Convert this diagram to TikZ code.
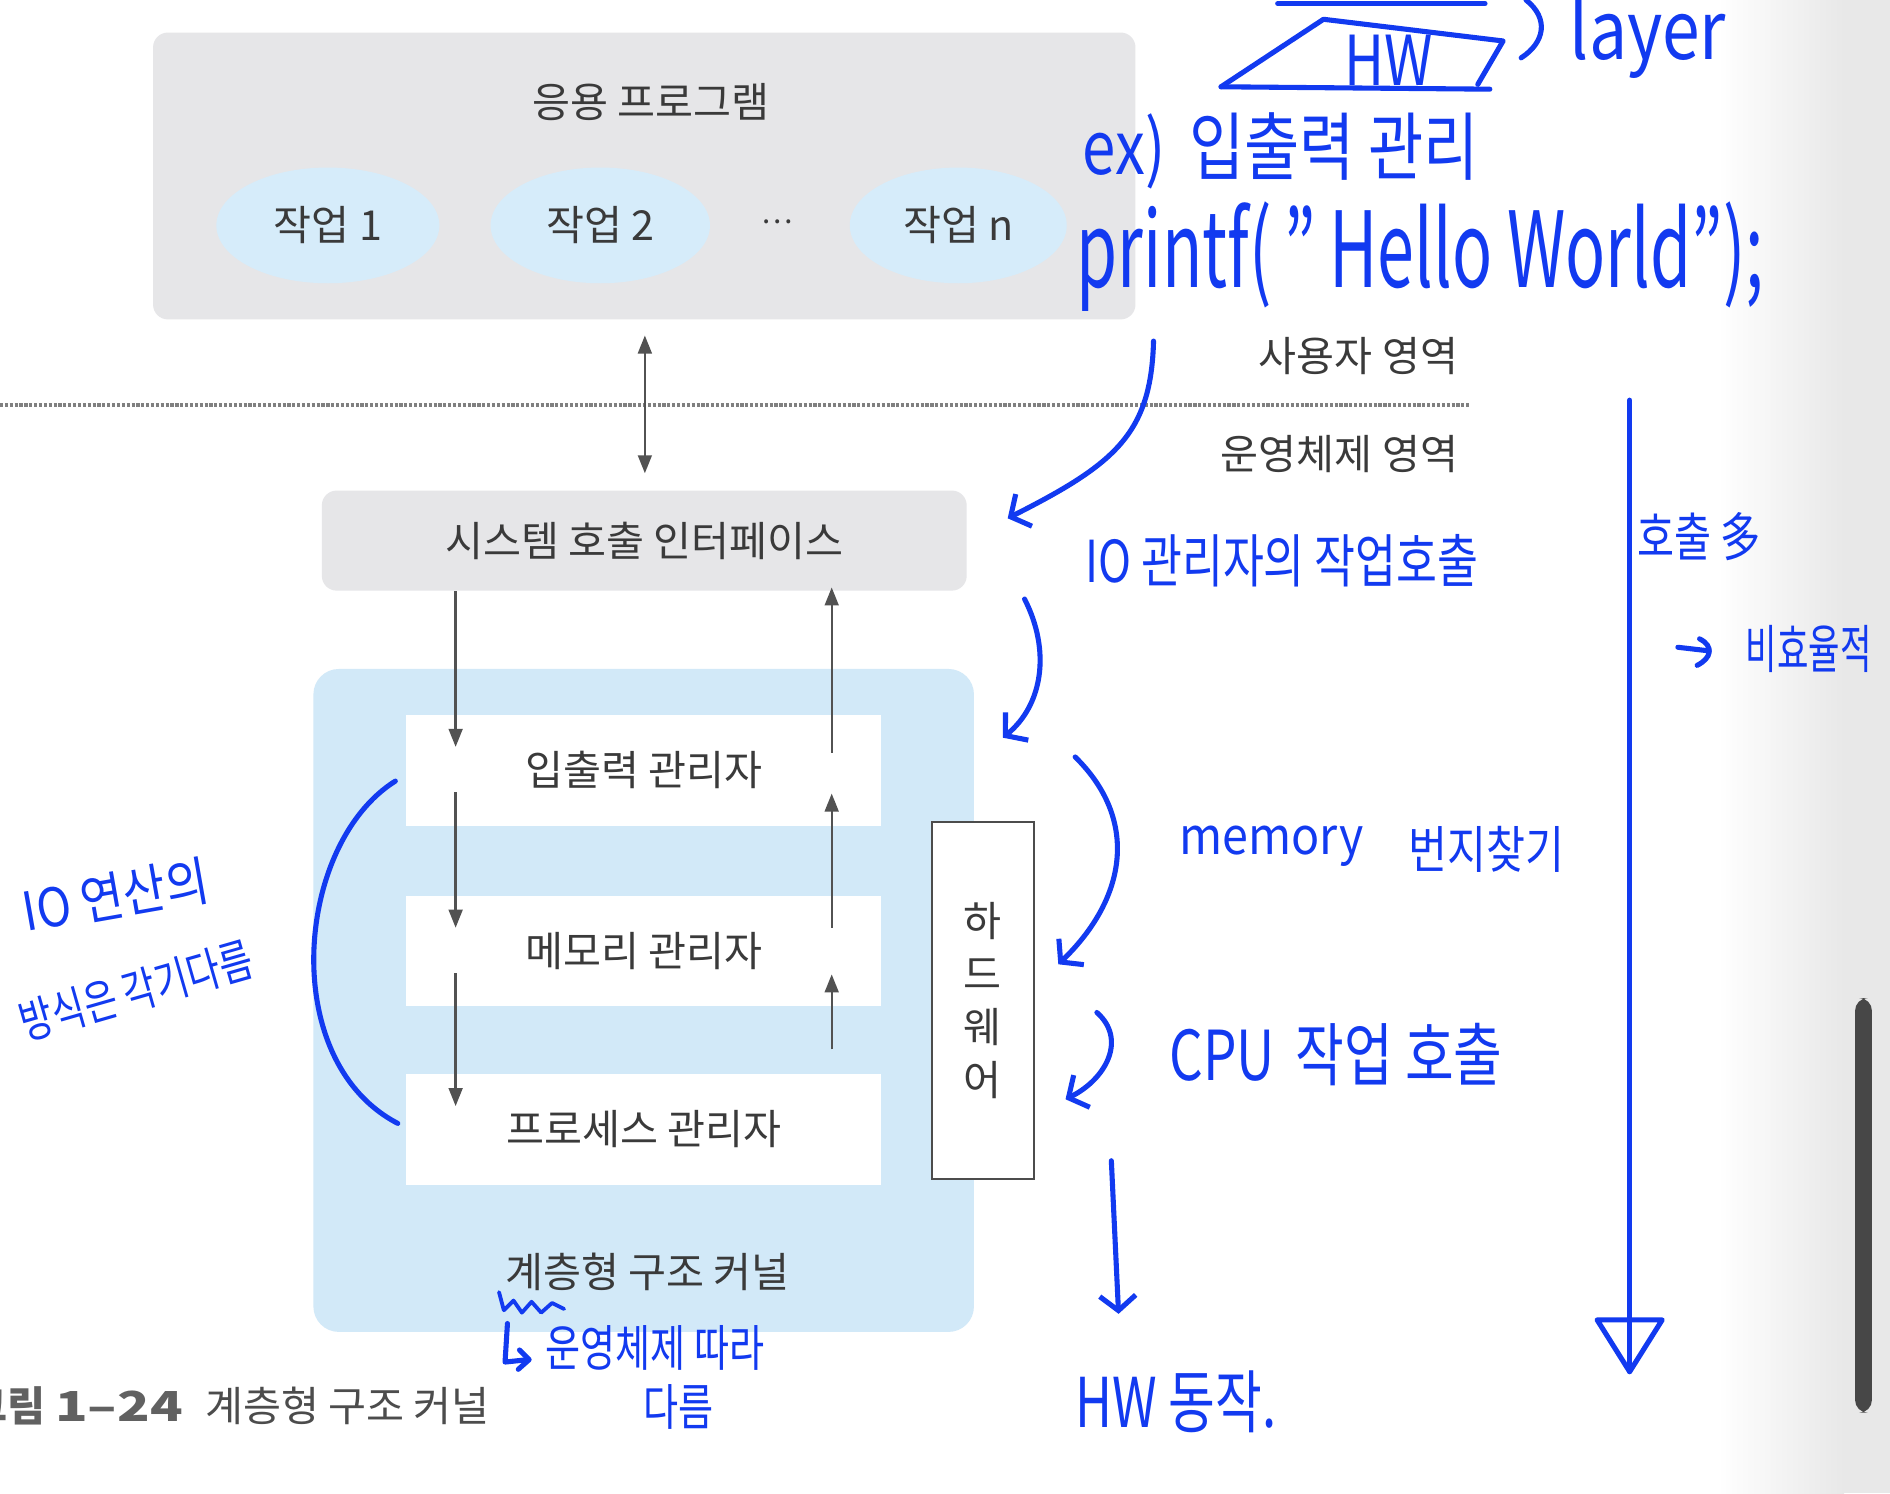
\documentclass[tikz,border=0pt]{standalone}
\usepackage{graphicx}
\usepackage{fontspec}
\setmainfont{Noto Sans CJK KR}
\usetikzlibrary{arrows.meta,calc,shapes.geometric}
\newlength\pxu \setlength\pxu{0.02cm}
\definecolor{pen}{RGB}{18,58,240}
\definecolor{ink}{RGB}{58,58,58}
\definecolor{boxgray}{RGB}{230,230,232}
\definecolor{lblue}{RGB}{210,233,248}
\definecolor{eblue}{RGB}{214,236,250}
\newcommand{\fs}[1]{\fontsize{#1}{#1}\selectfont}
\begin{document}
\begin{tikzpicture}[x=0.02cm,y=-0.02cm,
  graybox/.style={fill=boxgray, rounded corners=7pt, draw=none, inner sep=0pt},
  txt/.style={text=ink, font=\fs{19.5}, inner sep=0pt},
  ell/.style={ellipse, fill=eblue, text=ink, inner sep=0pt, font=\fs{19.5}},
  wbox/.style={fill=white, draw=none, inner sep=0pt, text=ink, font=\fs{19.5}},
  garrow/.style={draw=black!68, line width=1.1pt, -{Triangle[length=8.5pt,width=6.5pt]}},
  gdarrow/.style={draw=black!68, line width=1.1pt, {Triangle[length=8.5pt,width=6.5pt]}-{Triangle[length=8.5pt,width=6.5pt]}},
  hand/.style={draw=pen, line width=2.4pt, line cap=round, line join=round},
  handarrow/.style={hand, -{Straight Barb[length=7pt,width=17pt,line width=2.4pt]}},
  note/.style={text=pen, inner sep=0pt}
]
\useasboundingbox (0,0) rectangle (1568,1239);
\clip (0,0) rectangle (1568,1239);
\fill[white] (0,0) rectangle (1568,1239);
% right page shadow and scrollbar
\shade[left color=white, right color=black!9] (1425,0) rectangle (1530,1239);
\fill[black!9] (1530,0) rectangle (1568,1239);
\fill[black!72, rounded corners=6pt] (1539,828) rectangle (1553,1172);

% ---------- application area ----------
\node[graybox, minimum width=815\pxu, minimum height=238\pxu] (app) at (534.5,146) {};
\node[txt] (apptitle) at (540,85) {응용 프로그램};
\node[ell, minimum width=185\pxu, minimum height=96\pxu] (t1) at (272,187) {작업 1};
\node[ell, minimum width=182\pxu, minimum height=96\pxu] (t2) at (498,187) {작업 2};
\node[txt, font=\fs{14}] (dots) at (645,184) {…};
\node[ell, minimum width=180\pxu, minimum height=96\pxu] (tn) at (795,187) {작업 n};

% ---------- user / OS boundary ----------
\coordinate (lineL) at (0,336);
\coordinate (lineR) at (1220,336);
\draw[black!50, line width=2.2pt, dash pattern=on 1.5pt off 0.8pt] (lineL) -- (lineR);
\node[txt, anchor=east] (user) at (1210,295) {사용자 영역};
\node[txt, anchor=east] (osarea) at (1210,377) {운영체제 영역};

% ---------- system call interface ----------
\node[graybox, minimum width=535\pxu, minimum height=83\pxu, txt] (sys) at (534.5,448.5) {시스템 호출 인터페이스};

% ---------- kernel ----------
\node[fill=lblue, rounded corners=12pt, minimum width=548\pxu, minimum height=550\pxu, inner sep=0pt] (kernel) at (534,830) {};
\node[wbox, minimum width=394\pxu, minimum height=92\pxu] (io) at (534,639) {입출력 관리자};
\node[wbox, minimum width=394\pxu, minimum height=92\pxu] (mem) at (534,789) {메모리 관리자};
\node[wbox, minimum width=394\pxu, minimum height=92\pxu] (proc) at (534,937) {프로세스 관리자};
\node[txt] (ktitle) at (537,1055) {계층형 구조 커널};
\node[draw=black!70, line width=0.9pt, fill=white, minimum width=85\pxu, minimum height=296\pxu, inner sep=0pt, text=ink, font=\fontsize{19.5}{25}\selectfont, align=center] (hw) at (815.5,830) {하\\드\\웨\\어};

% ---------- gray connectors ----------
\coordinate (xM) at (535,0);
\coordinate (xL) at (378,0);
\coordinate (xR) at (690,0);
\draw[gdarrow] ($(app.south -| xM)+(0,13)$) -- ($(sys.north -| xM)+(0,-14)$);
\draw[garrow] (sys.south -| xL) -- ($(io.north -| xL)+(0,27)$);
\draw[garrow] ($(io.south -| xL)+(0,-28)$) -- ($(mem.north -| xL)+(0,27)$);
\draw[garrow] ($(mem.south -| xL)+(0,-28)$) -- ($(proc.north -| xL)+(0,27)$);
\draw[garrow] ($(io.north -| xR)+(0,32)$) -- ($(sys.south -| xR)+(0,-3)$);
\draw[garrow] ($(mem.north -| xR)+(0,27)$) -- ($(io.south -| xR)+(0,-27)$);
\draw[garrow] ($(proc.north -| xR)+(0,-20)$) -- ($(mem.south -| xR)+(0,-27)$);

% ---------- caption ----------
\node[anchor=east, text=black!62, font=\fs{19.5}\bfseries, inner sep=0pt] (capnum) at (152,1166) {그림 \scalebox{1.3}[1]{1–24}};
\node[anchor=west, text=black!70, font=\fs{19.5}, inner sep=0pt] (captxt) at (170,1166) {계층형 구조 커널};

% ---------- handwritten notes (blue) ----------
% HW layer sketch at top
\draw[hand] (1060,3) -- (1232,3);
\draw[hand] (1013,72) -- (1098,16) -- (1247,34) -- (1226,70);
\draw[hand] (1013,72) -- (1236,74);
\node[note, font=\fs{26}] (hwl) at (1152,50) {\scalebox{1}[1.25]{HW}};
\draw[hand] (1266,0) .. controls (1285,15) and (1282,35) .. (1262,48);
\node[note, font=\fs{32}, anchor=west] (layer) at (1302,30) {\scalebox{1}[1.2]{layer}};

\node[note, font=\fs{27}, anchor=west] (ex) at (898,125) {\scalebox{1.05}[1.3]{ex)\, 입출력 관리}};
\node[note, font=\fs{33}, anchor=west] (pf) at (893,213) {\scalebox{0.95}[1.5]{printf(\kern0.2em"\kern0.2em Hello World");}};

\draw[handarrow] (957,283) .. controls (955,360) and (925,385) .. (836,430);
\node[note, font=\fs{21}, anchor=west] (iocall) at (900,465) {\scalebox{1}[1.3]{IO 관리자의 작업호출}};
\draw[handarrow] (850,497) .. controls (872,540) and (865,585) .. (832,612);
\draw[handarrow] (892,628) .. controls (945,680) and (935,745) .. (878,800);
\node[note, font=\fs{22}, anchor=west] (memn) at (978,702) {\scalebox{1}[1.1]{memory}};
\node[note, font=\fs{20}, anchor=west] (addr) at (1168,705) {\scalebox{1}[1.2]{번지찾기}};
\draw[handarrow] (910,840) .. controls (935,862) and (918,895) .. (884,912);
\node[note, font=\fs{25}, anchor=west] (cpu) at (970,875) {\scalebox{1}[1.3]{CPU\, 작업 호출}};
\draw[handarrow] (922,963) -- (928,1090);
\node[note, font=\fs{24}, anchor=west] (hwact) at (892,1163) {\scalebox{1}[1.35]{HW 동작.}};

% long downward arrow on the right
\coordinate (vtop) at (1352,332);
\coordinate (vbot) at (1352,1138);
\draw[hand] (vtop) -- (vbot);
\draw[hand] (1325,1095) -- (1379,1095) -- (vbot) -- cycle;
\node[note, font=\fs{19}, anchor=west] (many) at (1358,445) {\scalebox{1}[1.3]{호출 多}};
\draw[hand] (1392,537) -- (1418,540);
\draw[hand] (1410,530) .. controls (1422,536) and (1420,546) .. (1408,552);
\node[note, font=\fs{17}, anchor=west] (ineff) at (1448,538) {\scalebox{0.95}[1.45]{비효율적}};

% left arc and note
\draw[hand] (328,648) .. controls (245,700) and (230,880) .. (330,932);
\node[note, font=\fs{21}, rotate=10] (ion1) at (96,743) {\scalebox{1.05}[1.2]{IO 연산의}};
\node[note, font=\fs{17}, rotate=16] (ion2) at (113,822) {\scalebox{1}[1.3]{방식은 각기다름}};

% squiggle under kernel title and note
\draw[hand, line width=1.8pt] (414,1072) -- (418,1087) -- (426,1079) -- (433,1089) -- (441,1080) -- (449,1089) -- (458,1081) -- (468,1086);
\draw[hand] (421,1098) -- (419,1130) -- (438,1128);
\draw[hand] (431,1120) -- (439,1128) -- (430,1136);
\node[note, font=\fs{18}, anchor=west] (osdep) at (452,1118) {\scalebox{1}[1.3]{운영체제 따라}};
\node[note, font=\fs{18}] (osdep2) at (563,1167) {\scalebox{1}[1.3]{다름}};
\end{tikzpicture}
\end{document}
